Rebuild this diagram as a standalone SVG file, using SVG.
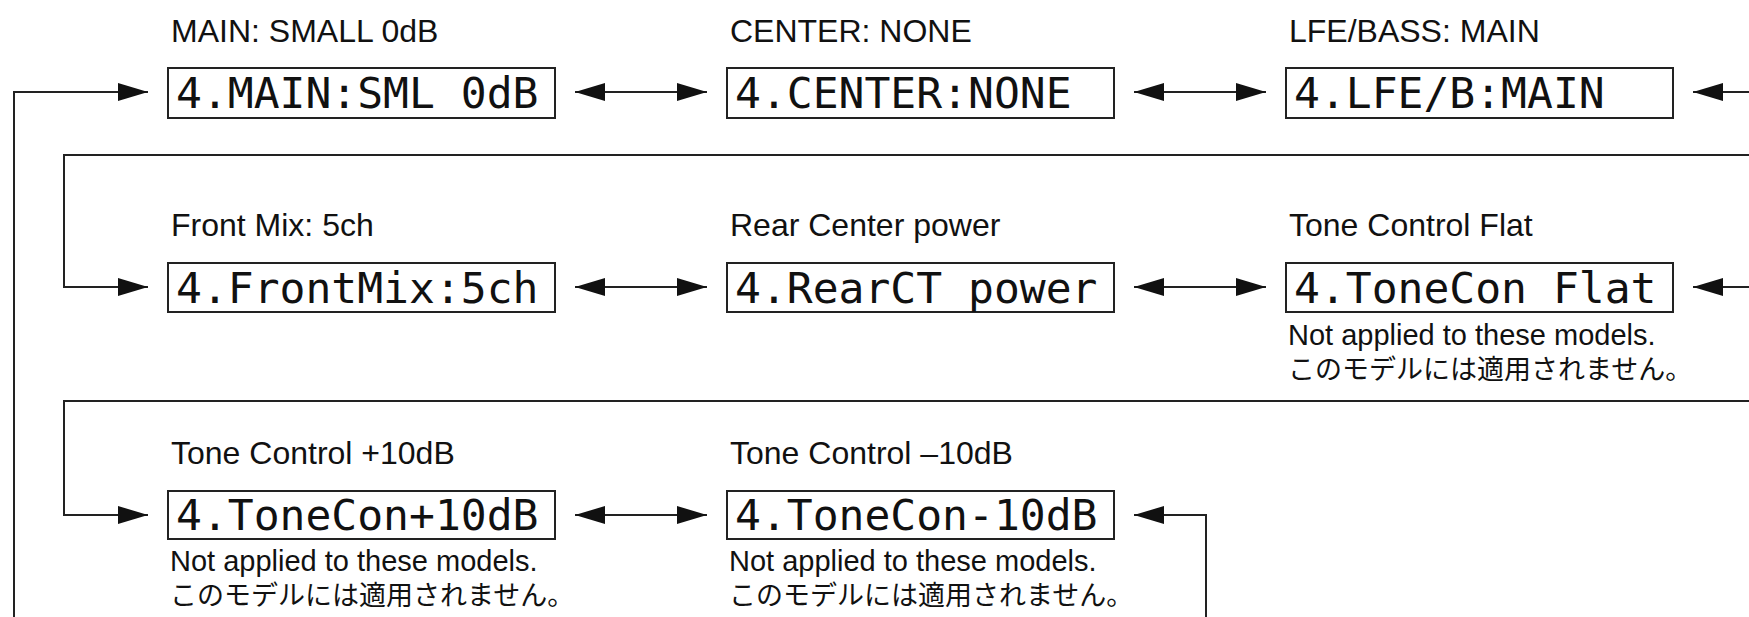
<svg xmlns="http://www.w3.org/2000/svg" width="1749" height="617" viewBox="0 0 1749 617">
<style>
.bg{fill:#fff}
.box{fill:#fff;stroke:#222;stroke-width:2}
.lcd{font-family:"DejaVu Sans Mono","Liberation Mono",monospace;font-size:43px;fill:#111}
.lbl{font-family:"Liberation Sans",Arial,sans-serif;font-size:32px;fill:#111}
.note{font-family:"Liberation Sans",Arial,sans-serif;font-size:29px;fill:#111}
.jp{font-family:"Noto Sans CJK JP","Liberation Sans",sans-serif;font-size:27px;fill:#111}
.wire{fill:none;stroke:#222;stroke-width:2}
</style>
<defs>
<marker id="ah" markerUnits="userSpaceOnUse" markerWidth="32" markerHeight="20" refX="30" refY="9" orient="auto-start-reverse" viewBox="0 0 32 20">
<path d="M0,0 L30,9 L0,18 Z" fill="#111"/>
</marker>
</defs>
<rect class="bg" width="1749" height="617"/>
<g id="connectors">
<path class="wire" d="M14,617 V92 H148" marker-end="url(#ah)"/>
<path class="wire" d="M575,92 H707" marker-start="url(#ah)" marker-end="url(#ah)"/>
<path class="wire" d="M1134,92 H1266" marker-start="url(#ah)" marker-end="url(#ah)"/>
<path class="wire" d="M1749,92 H1693" marker-end="url(#ah)"/>
<path class="wire" d="M1749,155 H64 V287 H148" marker-end="url(#ah)"/>
<path class="wire" d="M575,287 H707" marker-start="url(#ah)" marker-end="url(#ah)"/>
<path class="wire" d="M1134,287 H1266" marker-start="url(#ah)" marker-end="url(#ah)"/>
<path class="wire" d="M1749,287 H1693" marker-end="url(#ah)"/>
<path class="wire" d="M1749,401 H64 V515 H148" marker-end="url(#ah)"/>
<path class="wire" d="M575,515 H707" marker-start="url(#ah)" marker-end="url(#ah)"/>
<path class="wire" d="M1206,617 V515 H1134" marker-end="url(#ah)"/>
</g>
<g id="main-small">
<text class="lbl" x="171" y="42">MAIN: SMALL 0dB</text>
<rect class="box" x="168" y="68" width="387" height="50"/>
<text class="lcd" x="176" y="108">4.MAIN:SML 0dB</text>
</g>
<g id="center-none">
<text class="lbl" x="730" y="42">CENTER: NONE</text>
<rect class="box" x="727" y="68" width="387" height="50"/>
<text class="lcd" x="735" y="108">4.CENTER:NONE</text>
</g>
<g id="lfe-main">
<text class="lbl" x="1289" y="42">LFE/BASS: MAIN</text>
<rect class="box" x="1286" y="68" width="387" height="50"/>
<text class="lcd" x="1294" y="108">4.LFE/B:MAIN</text>
</g>
<g id="front-mix">
<text class="lbl" x="171" y="236">Front Mix: 5ch</text>
<rect class="box" x="168" y="263" width="387" height="49"/>
<text class="lcd" x="176" y="303">4.FrontMix:5ch</text>
</g>
<g id="rear-center">
<text class="lbl" x="730" y="236">Rear Center power</text>
<rect class="box" x="727" y="263" width="387" height="49"/>
<text class="lcd" x="735" y="303">4.RearCT power</text>
</g>
<g id="tone-flat">
<text class="lbl" x="1289" y="236">Tone Control Flat</text>
<rect class="box" x="1286" y="263" width="387" height="49"/>
<text class="lcd" x="1294" y="303">4.ToneCon Flat</text>
<text class="note" x="1288" y="345">Not applied to these models.</text>
<text class="jp" x="1288" y="379">このモデルには適用されません。</text>
</g>
<g id="tone-plus">
<text class="lbl" x="171" y="464">Tone Control +10dB</text>
<rect class="box" x="168" y="491" width="387" height="48"/>
<text class="lcd" x="176" y="530">4.ToneCon+10dB</text>
<text class="note" x="170" y="571">Not applied to these models.</text>
<text class="jp" x="170" y="605">このモデルには適用されません。</text>
</g>
<g id="tone-minus">
<text class="lbl" x="730" y="464">Tone Control –10dB</text>
<rect class="box" x="727" y="491" width="387" height="48"/>
<text class="lcd" x="735" y="530">4.ToneCon-10dB</text>
<text class="note" x="729" y="571">Not applied to these models.</text>
<text class="jp" x="729" y="605">このモデルには適用されません。</text>
</g>
</svg>
